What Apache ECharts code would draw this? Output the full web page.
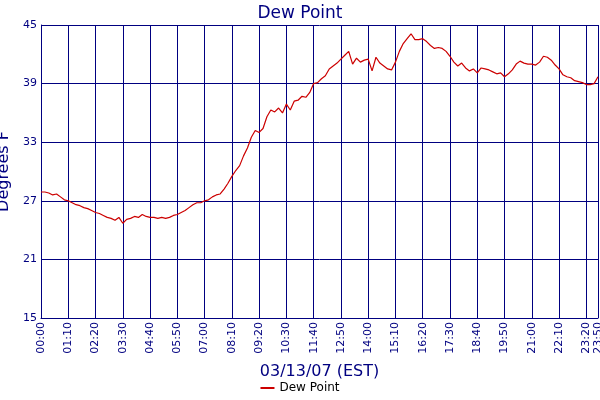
<!DOCTYPE html>
<html><head><meta charset="utf-8">
<script src="https://cdn.jsdelivr.net/npm/echarts@6/dist/echarts.min.js"></script>
<style>body{margin:0}#c{width:600px;height:400px}</style></head>
<body><div id="c"></div>
<script>
const hourly = [
[27.9,27.9,27.8,27.6,27.7,27.4],
[27.1,27.0,26.8,26.6,26.5,26.3],
[26.2,26.0,25.8,25.7,25.5,25.3],
[25.2,25.0,25.3,24.7,25.1,25.2],
[25.4,25.3,25.6,25.4,25.3,25.3],
[25.2,25.3,25.2,25.3,25.5,25.6],
[25.8,26.0,26.3,26.6,26.8,26.8],
[27.0,27.1,27.4,27.6,27.7,28.2],
[28.8,29.5,30.1,30.6,31.6,32.4],
[33.5,34.2,34.0,34.4,35.6,36.3],
[36.1,36.5,36.0,36.9,36.3,37.2],
[37.3,37.7,37.6,38.1,39.0,39.1],
[39.5,39.8,40.5,40.8,41.1,41.5],
[41.9,42.3,41.0,41.6,41.2,41.4],
[41.5,40.3,41.7,41.1,40.8,40.5],
[40.4,41.2,42.3,43.1,43.6,44.1],
[43.5,43.5,43.6,43.3,42.9,42.6],
[42.7,42.6,42.3,41.8,41.2,40.8],
[41.1,40.6,40.3,40.5,40.1,40.6],
[40.5,40.4,40.2,40.0,40.1,39.7],
[40.0,40.4,41.0,41.3,41.1,41.0],
[41.0,40.9,41.2,41.8,41.7,41.4],
[40.9,40.5,39.9,39.7,39.6,39.3],
[39.2,39.1,38.9,38.9,39.0,39.7]
];
const values = [].concat(...hourly);
const times = [];
for (let h=0;h<24;h++) for (let m=0;m<60;m+=10) times.push(String(h).padStart(2,'0')+':'+String(m).padStart(2,'0'));
const yTicks = [15,21,27,33,39,45];
const last = times.length-1;
const show = (i)=> i%7===0 || i===last;
const navy='#000080';
const chart = echarts.init(document.getElementById('c'));
chart.setOption({
  animation:false,
  textStyle:{fontFamily:'DejaVu Sans'},
  title:{text:'Dew Point',left:'center',top:0,textStyle:{color:navy,fontSize:17,fontWeight:'normal',fontFamily:'DejaVu Sans'}},
  grid:{left:41,right:2,top:25,bottom:82,containLabel:false,outerBoundsMode:'none'},
  legend:{bottom:1,left:'center',itemWidth:14,itemHeight:2,icon:'rect',textStyle:{color:'#000',fontSize:12},data:['Dew Point']},
  xAxis:{type:'category',data:times,boundaryGap:false,
    name:'03/13/07 (EST)',nameLocation:'middle',nameGap:46,nameTextStyle:{color:navy,fontSize:16},
    axisLine:{lineStyle:{color:navy}},axisTick:{show:false},
    axisLabel:{interval:(i)=>show(i),rotate:90,color:navy,fontSize:11,margin:4},
    splitLine:{show:true,interval:(i)=>show(i),lineStyle:{color:navy,width:1}}},
  yAxis:{type:'value',min:15,max:45,interval:6,
    name:'Degrees F',nameLocation:'middle',nameGap:26,nameTextStyle:{color:navy,fontSize:16},
    axisLine:{show:true,lineStyle:{color:navy}},axisTick:{show:false},
    axisLabel:{color:navy,fontSize:11,margin:4},
    splitLine:{lineStyle:{color:navy,width:1}}},
  series:[{name:'Dew Point',type:'line',data:values,showSymbol:false,lineStyle:{color:'#cc0000',width:1.2},itemStyle:{color:'#cc0000'}}]
});
</script></body></html>
